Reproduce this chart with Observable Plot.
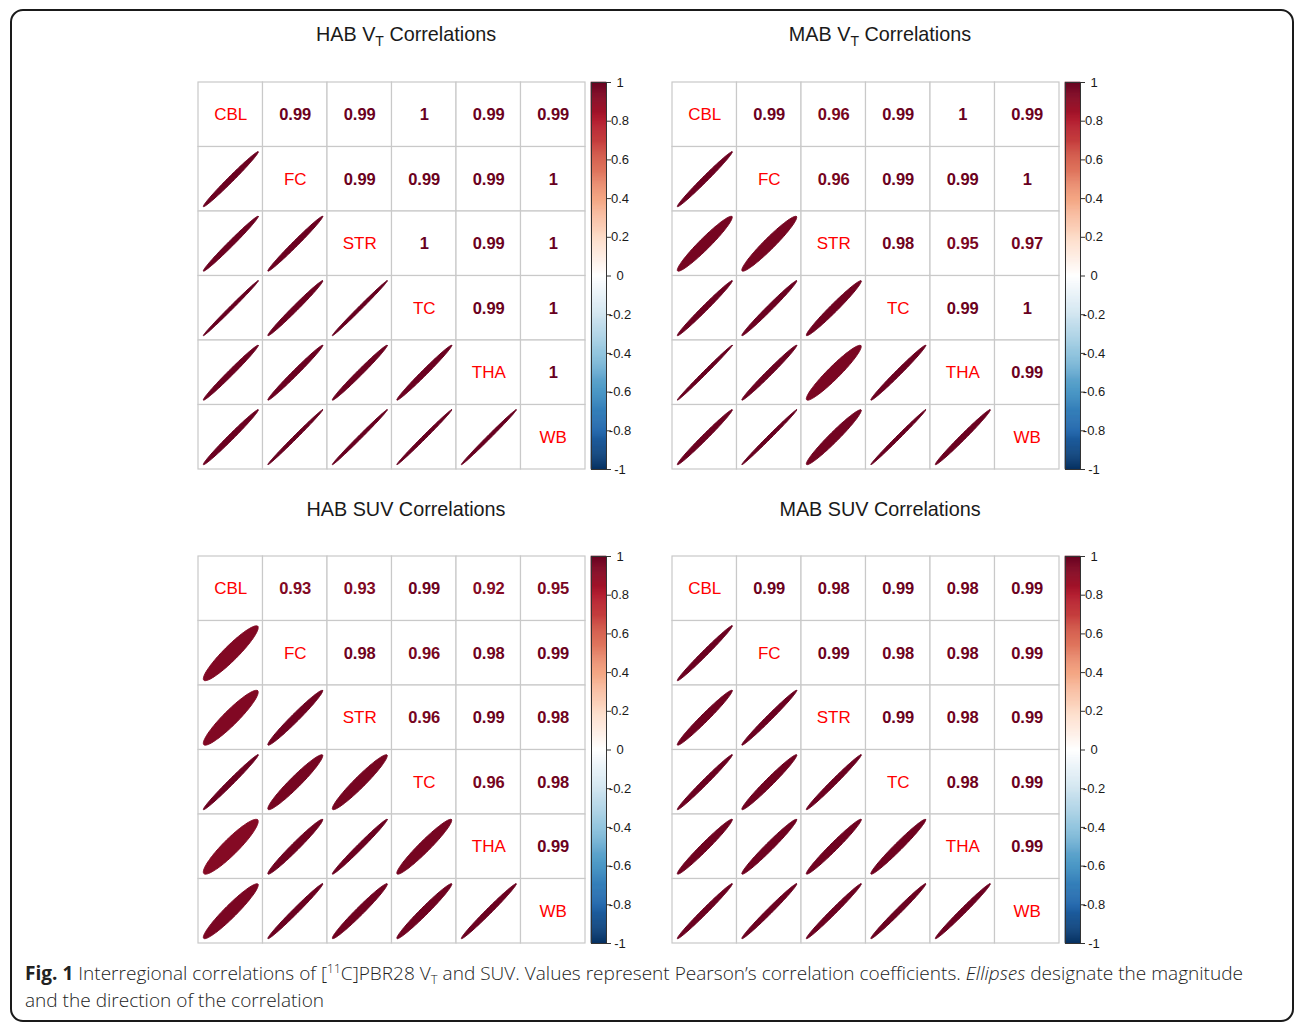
<!DOCTYPE html>
<html>
<head>
<meta charset="utf-8">
<script src="https://cdn.jsdelivr.net/npm/d3@7"></script>
<script src="https://cdn.jsdelivr.net/npm/@observablehq/plot@0.6"></script>
<style>
  body { margin: 0; background: #fff; }
  #page { position: relative; width: 1296px; height: 1024px; overflow: hidden; background: #fff; }
  #frame { position: absolute; left: 10px; top: 9px; width: 1284px; height: 1013px; box-sizing: border-box;
           border: 2px solid #1a1a1a; border-radius: 13px; }
  .title { position: absolute; font-family: "Liberation Sans", Arial, sans-serif; font-size: 19.8px; color: #1a1a1a;
           transform: translate(-50%, -50%); white-space: nowrap; }
  .title sub { font-size: 14px; vertical-align: -5px; line-height: 0; }
  .abs { position: absolute; }
  .cap { position: absolute; left: 25px; font-family: "Open Sans", sans-serif; font-weight: 300; font-size: 19px; color: #222;
         white-space: nowrap; transform-origin: 0 50%; }
  .cap b { font-weight: 700; }
  .cap sub { font-size: 13px; vertical-align: -4px; line-height: 0; }
  .cap sup { font-size: 12px; vertical-align: 7px; line-height: 0; }
  svg text { font-family: "Liberation Sans", Arial, sans-serif; }
</style>
</head>
<body>
<div id="page">
  <div id="frame"></div>
</div>
<script>
// ---------- data ----------
const regions = ["CBL", "FC", "STR", "TC", "THA", "WB"];
// upper-triangle rows: values of row i against columns i+1..5
const habVT  = [[0.99, 0.99, 1, 0.99, 0.99], [0.99, 0.99, 0.99, 1], [1, 0.99, 1], [0.99, 1], [1]];
const mabVT  = [[0.99, 0.96, 0.99, 1, 0.99], [0.96, 0.99, 0.99, 1], [0.98, 0.95, 0.97], [0.99, 1], [0.99]];
const habSUV = [[0.93, 0.93, 0.99, 0.92, 0.95], [0.98, 0.96, 0.98, 0.99], [0.96, 0.99, 0.98], [0.96, 0.98], [0.99]];
const mabSUV = [[0.99, 0.98, 0.99, 0.98, 0.99], [0.99, 0.98, 0.98, 0.99], [0.99, 0.98, 0.99], [0.98, 0.99], [0.99]];
const colorTicks = [-1, -0.8, -0.6, -0.4, -0.2, 0, 0.2, 0.4, 0.6, 0.8, 1];
const paletteDomain = [-1, -0.8, -0.6, -0.4, -0.2, 0, 0.2, 0.4, 0.6, 0.8, 1];
const paletteRange = ["#053061", "#2166AC", "#4393C3", "#92C5DE", "#D1E5F0", "#FFFFFF",
                      "#FDDBC7", "#F4A582", "#D6604D", "#B2182B", "#67001F"];

const panels = [
  {pre: "HAB V", sub: "T", rest: " Correlations", vals: habVT,  gx: 198, gy: 82,  tx: 406, ty: 34},
  {pre: "MAB V", sub: "T", rest: " Correlations", vals: mabVT,  gx: 672, gy: 82,  tx: 880, ty: 34},
  {pre: "HAB SUV Correlations", sub: "", rest: "", vals: habSUV, gx: 198, gy: 556, tx: 406, ty: 509},
  {pre: "MAB SUV Correlations", sub: "", rest: "", vals: mabSUV, gx: 672, gy: 556, tx: 880, ty: 509}
];

const color = {type: "linear", domain: paletteDomain, range: paletteRange, interpolate: "rgb"};
const font = "Liberation Sans, Arial, sans-serif";
const page = document.getElementById("page");
const n = regions.length;
const cell = 64.5;
const gridSize = cell * n;

function buildTable(vals) {
  const cells = [], upper = [], diag = [], ell = [];
  for (let i = 0; i < n; i++) {
    for (let j = 0; j < n; j++) {
      cells.push({i, j});
      if (i === j) diag.push({i, j, label: regions[i]});
      else if (j > i) upper.push({i, j, r: vals[i][j - i - 1]});
      else {
        const r = vals[j][i - j - 1];
        // a printed "1" stands for a value rounded up from at least 0.995
        const rShape = Math.min(r, 0.996);
        const d = Math.acos(rShape);
        const K = 120;
        for (let k = 0; k <= K; k++) {
          const t = (2 * Math.PI * k) / K;
          const ex = Math.cos(t + d / 2) / 2 * 0.85;
          const ey = Math.cos(t - d / 2) / 2 * 0.85;
          ell.push({id: i + "-" + j, r, x: j + 0.5 + ex, y: i + 0.5 - ey});
        }
      }
    }
  }
  return {cells, upper, diag, ell};
}

const m = 2;
for (const p of panels) {
  const t = buildTable(p.vals);
  const chart = Plot.plot({
    width: gridSize + 2 * m,
    height: gridSize + 2 * m,
    margin: m,
    x: {domain: [0, n], range: [m, m + gridSize], axis: null},
    y: {domain: [0, n], range: [m, m + gridSize], axis: null},
    color,
    style: {background: "transparent", fontFamily: font},
    marks: [
      Plot.rect(t.cells, {x1: "j", x2: d => d.j + 1, y1: "i", y2: d => d.i + 1,
                          fill: "white", stroke: "#c9c9c9", strokeWidth: 1.2}),
      Plot.line(t.ell, {x: "x", y: "y", z: "id", fill: "r", stroke: "r", strokeWidth: 1, curve: "linear-closed"}),
      Plot.text(t.upper, {x: d => d.j + 0.5, y: d => d.i + 0.5, text: d => String(d.r), fill: "r",
                          fontSize: 16.5, fontWeight: "bold", fontFamily: font}),
      Plot.text(t.diag, {x: d => d.j + 0.5, y: d => d.i + 0.5, text: "label", fill: "#FF0000",
                         fontSize: 17, fontFamily: font})
    ]
  });
  chart.classList.add("abs");
  chart.style.left = (p.gx - m) + "px";
  chart.style.top = (p.gy - m) + "px";
  page.appendChild(chart);

  // colour bar
  const steps = d3.range(-1, 1, 0.005);
  const mt = 8, ml = 1, mr = 40, bw = 15;
  const bar = Plot.plot({
    width: ml + bw + mr,
    height: gridSize + 2 * mt,
    marginTop: mt, marginBottom: mt, marginLeft: ml, marginRight: mr,
    y: {domain: [-1, 1], axis: null},
    color,
    style: {background: "transparent", fontFamily: font},
    marks: [
      Plot.rect(steps, {y1: d => d, y2: d => d + 0.005, fill: d => d + 0.0025, stroke: d => d + 0.0025,
                        strokeWidth: 0.6}),
      Plot.frame({stroke: "#333", strokeWidth: 1}),
      Plot.axisY({anchor: "right", ticks: colorTicks, tickSize: 4, tickPadding: 9.5, stroke: "#333",
                  tickFormat: d => String(+d.toFixed(1)), fontSize: 13, fill: "#1a1a1a", fontVariant: "normal",
                  textAnchor: "middle", fontFamily: font, label: null})
    ]
  });
  bar.classList.add("abs");
  bar.style.left = (p.gx + gridSize + 6 - ml) + "px";
  bar.style.top = (p.gy - mt) + "px";
  page.appendChild(bar);

  // title
  const title = document.createElement("div");
  title.className = "title";
  title.style.left = p.tx + "px";
  title.style.top = p.ty + "px";
  if (p.sub) {
    title.append(p.pre);
    const s = document.createElement("sub"); s.textContent = p.sub; title.append(s);
    title.append(p.rest);
  } else title.textContent = p.pre;
  page.appendChild(title);
}

// caption
const cap1 = document.createElement("div");
cap1.className = "cap";
cap1.style.top = "960px";
cap1.innerHTML = '<b>Fig. 1</b> Interregional correlations of [<sup>11</sup>C]PBR28 V<sub>T</sub> and SUV. Values represent Pearson\u2019s correlation coefficients. <i>Ellipses</i> designate the magnitude';
const cap2 = document.createElement("div");
cap2.className = "cap";
cap2.style.top = "987px";
cap2.textContent = "and the direction of the correlation";
page.appendChild(cap1);
page.appendChild(cap2);
const w1 = cap1.getBoundingClientRect().width;
const sx = 1218 / w1;
cap1.style.transform = `scaleX(${sx})`;
cap2.style.transform = `scaleX(${sx})`;
</script>
</body>
</html>
